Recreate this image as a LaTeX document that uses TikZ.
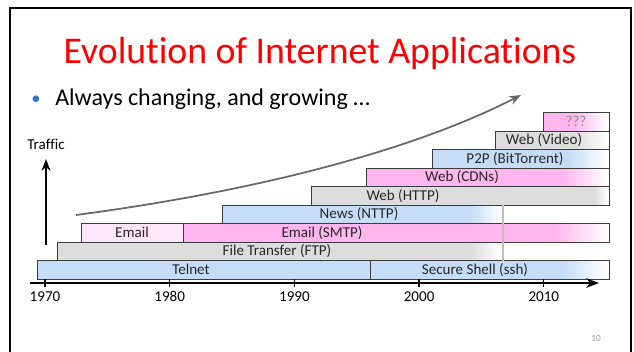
\documentclass[tikz,border=0pt]{standalone}
\usepackage{fontspec}
\setmainfont{Carlito}[Ligatures=NoCommon]
\usepackage{xcolor}
\usetikzlibrary{arrows.meta,fit}

\definecolor{barblue}{HTML}{C6DDF8}
\definecolor{barpink}{HTML}{FFB6EF}
\definecolor{barrose}{HTML}{FFE6FA}
\definecolor{bargray}{HTML}{DDDDDD}
\definecolor{edgegray}{HTML}{3C3C3C}
\definecolor{dotblue}{HTML}{2E75D6}

\begin{document}
\begin{tikzpicture}[x=0.75pt, y=-0.75pt,
  bar/.style={draw=edgegray, line width=0.6pt, fill=#1, inner sep=0pt},
  fadebar/.style 2 args={bar=#1,
    path picture={
      \foreach \k in {1,...,20} {
        \pgfmathtruncatemacro\pc{100-5*\k}
        \fill[#1!\pc!white]
          ([xshift={-#2+(\k-1)*#2/20}]path picture bounding box.south east)
          rectangle ([xshift={-#2+\k*#2/20+0.3pt}]path picture bounding box.north east);
      }}},
  lbl/.style={font=\fontsize{11.3}{13}\selectfont, text=black!85,
              inner sep=0pt, text height=0.64em, text depth=0pt},
  title/.style={font=\fontsize{28.3}{32}\selectfont, text=red, inner sep=0pt},
  >=Stealth,
]
  \useasboundingbox (0,0) rectangle (634,352);
  % slide frame
  \draw[line width=1.9pt] (10,352) -- (10,8) -- (631,8) -- (631,352);

  \node[title] (title) at (320,53) {Evolution of Internet Applications};
  \node[text=dotblue, font=\fontsize{14}{16}\selectfont, inner sep=0pt] (dot) at (36,100) {•};
  \node[anchor=west, font=\fontsize{18}{20}\selectfont, inner sep=0pt,
        text height=0.64em, text depth=0pt] (point) at (55,101)
    {Always changing, and growing …};

  % bars, bottom row first
  \node[fit={(37,260.5) (370,279)}, bar=barblue] (telnet) {};
  \node[fit={(370,260.5) (609,279)}, fadebar={barblue}{34pt}] (ssh) {};
  \node[fit={(57,242) (503,260.5)}, fadebar={bargray}{24pt}] (ftp) {};
  \node[fit={(81,223.5) (183,242)}, bar=barrose] (email) {};
  \node[fit={(183,223.5) (609,242)}, fadebar={barpink}{39pt}] (smtp) {};
  \node[fit={(222,205) (503,223.5)}, fadebar={barblue}{24pt}] (news) {};
  \node[fit={(311,186.5) (609,205)}, fadebar={bargray}{10pt}] (http) {};
  \node[fit={(366,168) (609,186.5)}, fadebar={barpink}{34pt}] (cdn) {};
  \node[fit={(432,149.5) (609,168)}, fadebar={barblue}{30pt}] (p2p) {};
  \node[fit={(495,131) (609,149.5)}, fadebar={bargray}{24pt}] (video) {};
  \node[fit={(543,112.5) (609,131)}, fadebar={barpink}{26pt}] (future) {};
  \draw[black!25, line width=1.4pt] (news.north east) -- (ftp.south east);

  \node[lbl] (telnetlbl) at (191,269.75) {Telnet};
  \node[lbl] (sshlbl) at (475,269.75) {Secure Shell (ssh)};
  \node[lbl] (ftplbl) at (277,251.25) {File Transfer (FTP)};
  \node[lbl] (emaillbl) at (132,232.75) {Email};
  \node[lbl] (smtplbl) at (322,232.75) {Email (SMTP)};
  \node[lbl] (newslbl) at (359,214.25) {News (NTTP)};
  \node[lbl] (httplbl) at (403,195.75) {Web (HTTP)};
  \node[lbl] (cdnlbl) at (462,177.25) {Web (CDNs)};
  \node[lbl] (p2plbl) at (515,158.75) {P2P (BitTorrent)};
  \node[lbl] (videolbl) at (544,140.25) {Web (Video)};
  \node[lbl, text=black!45] (futurelbl) at (576,121.75) {???};

  % time axis
  \coordinate (t0) at (30,283);
  \coordinate (t1) at (599,283);
  \draw[->, line width=1.5pt] (t0) -- (t1);
  \foreach \yr [count=\i from 0] in {1970,1980,1990,2000,2010} {
    \draw[line width=1pt] (45+124.7*\i,279) -- (45+124.7*\i,287);
    \node[lbl, text=black] (yr\i) at (45+124.7*\i,297.5) {\yr};
  }

  % traffic arrow
  \node[lbl, text=black] (traffic) at (46,145) {Traffic};
  \coordinate (tbase) at (46,245);
  \coordinate (ttop) at (46,159);
  \draw[->, line width=1.3pt] (tbase) -- (ttop);

  % growth curve
  \coordinate (gstart) at (76,215);
  \coordinate (gend) at (521,95);
  \draw[->, black!60, line width=1.3pt] (gstart) .. controls (250,192) and (410,152) .. (gend);

  \node[text=black!40, font=\fontsize{7}{8}\selectfont] (pageno) at (596,339) {10};
\end{tikzpicture}
\end{document}
